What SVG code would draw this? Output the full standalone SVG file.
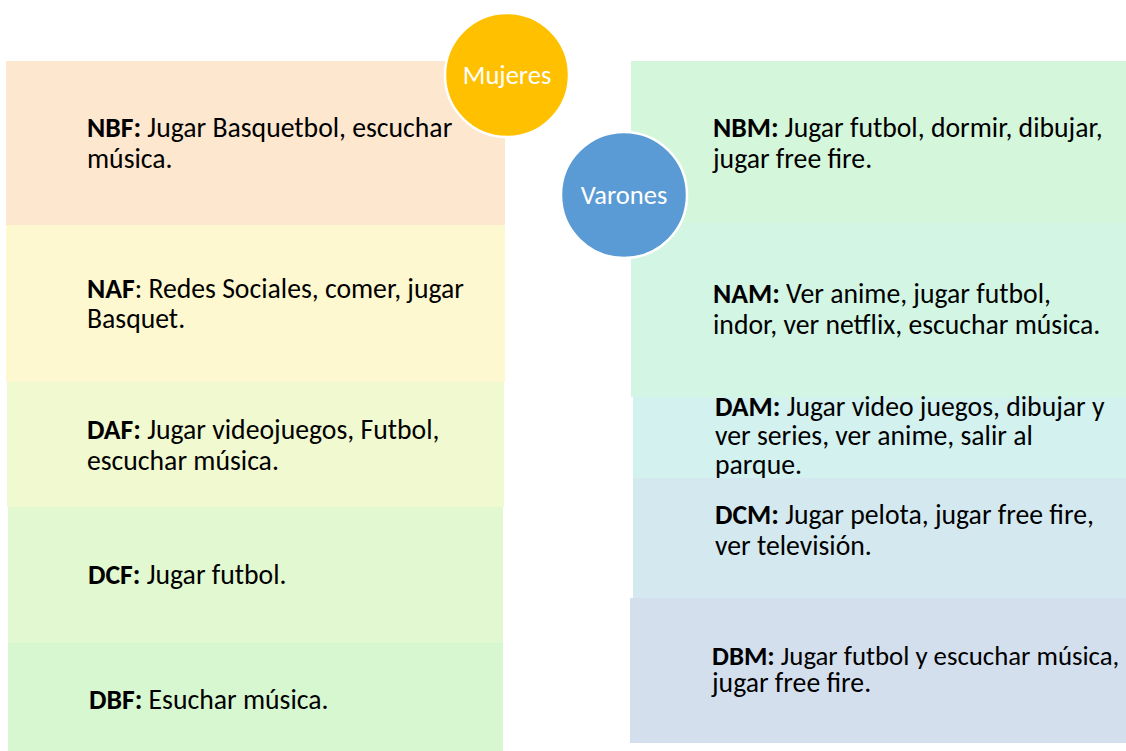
<svg xmlns="http://www.w3.org/2000/svg" width="1126" height="751" viewBox="0 0 1126 751">
<style>
.t{font-family:Calibri,Carlito,"Liberation Sans",Arial,sans-serif;font-size:27.7px;fill:#000}
.b{font-weight:bold}
.s{font-size:26.8px}
.c{font-family:Calibri,Carlito,"Liberation Sans",Arial,sans-serif;font-size:26.5px;fill:#fff;text-anchor:middle}
.circ{stroke:#fff;stroke-width:2.5}
</style>
<rect width="1126" height="751" fill="#fff"/>
<g id="connectors"></g>
<g id="NBF"><rect x="6" y="61" width="499" height="164" fill="#FDE7CE"/>
<text class="t" x="87" y="137"><tspan class="b">NBF:</tspan> Jugar Basquetbol, escuchar</text>
<text class="t" x="87" y="168">música.</text></g>
<g id="NAF"><rect x="6" y="225" width="499" height="157" fill="#FDF8CF"/>
<text class="t" x="87" y="298"><tspan class="b">NAF</tspan>: Redes Sociales, comer, jugar</text>
<text class="t" x="87" y="328">Basquet.</text></g>
<g id="DAF"><rect x="7" y="382" width="497" height="125" fill="#F0F9D0"/>
<text class="t" x="87" y="439"><tspan class="b">DAF:</tspan> Jugar videojuegos, Futbol,</text>
<text class="t" x="87" y="470">escuchar música.</text></g>
<g id="DCF"><rect x="8" y="507" width="495" height="136" fill="#E1F8D0"/>
<text class="t" x="88" y="584"><tspan class="b">DCF:</tspan> Jugar futbol.</text></g>
<g id="DBF"><rect x="8" y="643" width="495" height="108" fill="#D7F7D1"/>
<text class="t" x="89" y="709"><tspan class="b">DBF:</tspan> Esuchar música.</text></g>
<g id="NBM"><rect x="631" y="61" width="495" height="162" fill="#D4F6DB"/>
<text class="t" x="713" y="137"><tspan class="b">NBM:</tspan> Jugar futbol, dormir, dibujar,</text>
<text class="t" x="713" y="168">jugar free fire.</text></g>
<g id="NAM"><rect x="631" y="223" width="495" height="174" fill="#D3F5E4"/>
<text class="t" x="713" y="303"><tspan class="b">NAM:</tspan> Ver anime, jugar futbol,</text>
<text class="t" x="713" y="334">indor, ver netflix, escuchar música.</text></g>
<g id="DAM"><rect x="633" y="397" width="493" height="81" fill="#D3F1EF"/>
<text class="t" x="715" y="416"><tspan class="b">DAM:</tspan> Jugar video juegos, dibujar y</text>
<text class="t" x="715" y="445">ver series, ver anime, salir al</text>
<text class="t" x="715" y="474">parque.</text></g>
<g id="DCM"><rect x="633" y="478" width="493" height="120" fill="#D4E8EF"/>
<text class="t" x="715" y="524"><tspan class="b">DCM:</tspan> Jugar pelota, jugar free fire,</text>
<text class="t" x="715" y="555">ver televisión.</text></g>
<g id="DBM"><rect x="630" y="598" width="496" height="145" fill="#D4DFEE"/>
<text class="t s" x="712" y="665"><tspan class="b">DBM:</tspan> Jugar futbol y escuchar música,</text>
<text class="t" x="712" y="692">jugar free fire.</text></g>
<g id="Mujeres"><circle class="circ" cx="507" cy="75" r="62" fill="#FFC000"/>
<text class="c" x="507" y="84">Mujeres</text></g>
<g id="Varones"><circle class="circ" cx="624" cy="195" r="63" fill="#5B9BD5"/>
<text class="c" x="624" y="204">Varones</text></g>
</svg>
